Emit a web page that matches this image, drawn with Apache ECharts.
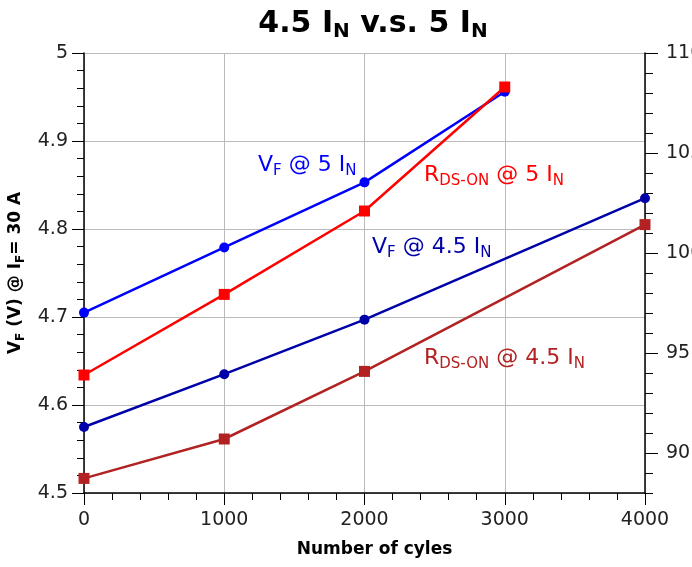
<!DOCTYPE html>
<html>
<head>
<meta charset="utf-8">
<script src="https://cdn.jsdelivr.net/npm/echarts@6/dist/echarts.min.js"></script>
<style>html,body{margin:0;padding:0;background:#fff}#c{width:692px;height:567px}</style>
</head>
<body>
<div id="c"></div>
<script>
// ---- data ----
var cyclesVF5 = [0, 1000, 2000, 3000];
var vf5 = [4.705, 4.779, 4.853, 4.956];
var cyclesRds5 = [0, 1000, 2000, 3000];
var rds5 = [93.9, 97.93, 102.1, 108.3];
var cyclesVF45 = [0, 1000, 2000, 4000];
var vf45 = [4.575, 4.635, 4.697, 4.835];
var cyclesRds45 = [0, 1000, 2000, 4000];
var rds45 = [88.73, 90.7, 94.08, 101.42];
var rightLabels = [90, 95, 100, 105, 110];

function pairs(xs, ys) { return xs.map(function (x, i) { return [x, ys[i]]; }); }

var FONT = 'DejaVu Sans';
var chart = echarts.init(document.getElementById('c'));

function subRich(size, subSize, color, bold) {
  return {
    m: { fontSize: size, fontFamily: FONT, fontWeight: bold ? 'bold' : 'normal', color: color, fill: color, lineHeight: size + 6, verticalAlign: 'middle' },
    s: { fontSize: subSize, fontFamily: FONT, fontWeight: bold ? 'bold' : 'normal', color: color, fill: color, lineHeight: subSize, verticalAlign: 'bottom' }
  };
}

function annot(x, y, text, color) {
  return {
    type: 'text', left: x, top: y, z: 100,
    style: { text: text, fill: color, font: '22px "DejaVu Sans"', rich: subRich(22, 15, color, false) }
  };
}

var axisLineStyle = { color: '#000', width: 1.5 };

chart.setOption({
  animation: false,
  backgroundColor: '#fff',
  title: {
    text: '{m|4.5 I}{s|N}{m| v.s. 5 I}{s|N}',
    left: 368, top: 1, textAlign: 'center',
    textStyle: { rich: subRich(30, 20, '#000', true) }
  },
  grid: { left: 84, right: 47, top: 53, bottom: 74, outerBoundsMode: 'none', containLabel: false },
  xAxis: {
    type: 'value', min: 0, max: 4000, interval: 1000,
    name: 'Number of cyles', nameLocation: 'middle', nameGap: 48,
    nameTextStyle: { fontFamily: FONT, fontWeight: 'bold', fontSize: 17, color: '#000', padding: [0, 0, 0, 20] },
    axisLine: { lineStyle: axisLineStyle },
    axisTick: { show: true, length: 12, lineStyle: { color: '#000' } },
    minorTick: { show: true, splitNumber: 5, length: 7, lineStyle: { color: '#000' } },
    axisLabel: { fontFamily: FONT, fontSize: 19, color: '#222', margin: 18, formatter: function (v) { return String(v); } },
    splitLine: { show: true, lineStyle: { color: '#bbb', width: 1 } }
  },
  yAxis: [
    {
      type: 'value', min: 4.5, max: 5, interval: 0.1, position: 'left',
      name: '{m|V}{s|F}{m| (V) @ I}{s|F}{m|= 30 A}', nameLocation: 'middle', nameGap: 53,
      nameTextStyle: { rich: subRich(17, 12, '#000', true) },
      axisLine: { show: true, lineStyle: axisLineStyle },
      axisTick: { show: true, length: 12, lineStyle: { color: '#000' } },
      minorTick: { show: true, splitNumber: 5, length: 7, lineStyle: { color: '#000' } },
      axisLabel: { fontFamily: FONT, fontSize: 19, color: '#222', margin: 16 },
      splitLine: { show: true, lineStyle: { color: '#bbb', width: 1 } }
    },
    {
      type: 'value', min: 88, max: 110, interval: 1, position: 'right',
      axisLine: { show: true, lineStyle: axisLineStyle },
      axisTick: { show: true, length: 8, lineStyle: { color: '#000' } },
      axisLabel: {
        fontFamily: FONT, fontSize: 19, color: '#222', margin: 21,
        formatter: function (v) { return rightLabels.indexOf(v) >= 0 ? String(v) : ''; }
      },
      splitLine: { show: false }
    },
    {
      type: 'value', min: 88, max: 110, position: 'right',
      axisLine: { show: false },
      axisTick: { show: true, length: 13, customValues: rightLabels, lineStyle: { color: '#000' } },
      axisLabel: { show: false },
      splitLine: { show: false }
    }
  ],
  series: [
    {
      name: 'VF @ 5 IN', type: 'line', yAxisIndex: 0, data: pairs(cyclesVF5, vf5),
      symbol: 'circle', symbolSize: 10, color: '#0000ff',
      lineStyle: { width: 2.5, color: '#0000ff' }, itemStyle: { color: '#0000ff' }
    },
    {
      name: 'VF @ 4.5 IN', type: 'line', yAxisIndex: 0, data: pairs(cyclesVF45, vf45),
      symbol: 'circle', symbolSize: 10, color: '#0000a8',
      lineStyle: { width: 2.5, color: '#0000a8' }, itemStyle: { color: '#0000a8' }
    },
    {
      name: 'RDS-ON @ 4.5 IN', type: 'line', yAxisIndex: 1, data: pairs(cyclesRds45, rds45),
      symbol: 'rect', symbolSize: 11, color: '#b22222',
      lineStyle: { width: 2.5, color: '#b22222' }, itemStyle: { color: '#b22222' }
    },
    {
      name: 'RDS-ON @ 5 IN', type: 'line', yAxisIndex: 1, data: pairs(cyclesRds5, rds5),
      symbol: 'rect', symbolSize: 11, color: '#ff0000',
      lineStyle: { width: 2.5, color: '#ff0000' }, itemStyle: { color: '#ff0000' }
    }
  ],
  graphic: [
    annot(258, 154, '{m|V}{s|F}{m| @ 5 I}{s|N}', '#0000ff'),
    annot(424, 164, '{m|R}{s|DS-ON}{m| @ 5 I}{s|N}', '#ff0000'),
    annot(372, 236, '{m|V}{s|F}{m| @ 4.5 I}{s|N}', '#0000a8'),
    annot(424, 347, '{m|R}{s|DS-ON}{m| @ 4.5 I}{s|N}', '#b22222')
  ]
});
</script>
</body>
</html>
